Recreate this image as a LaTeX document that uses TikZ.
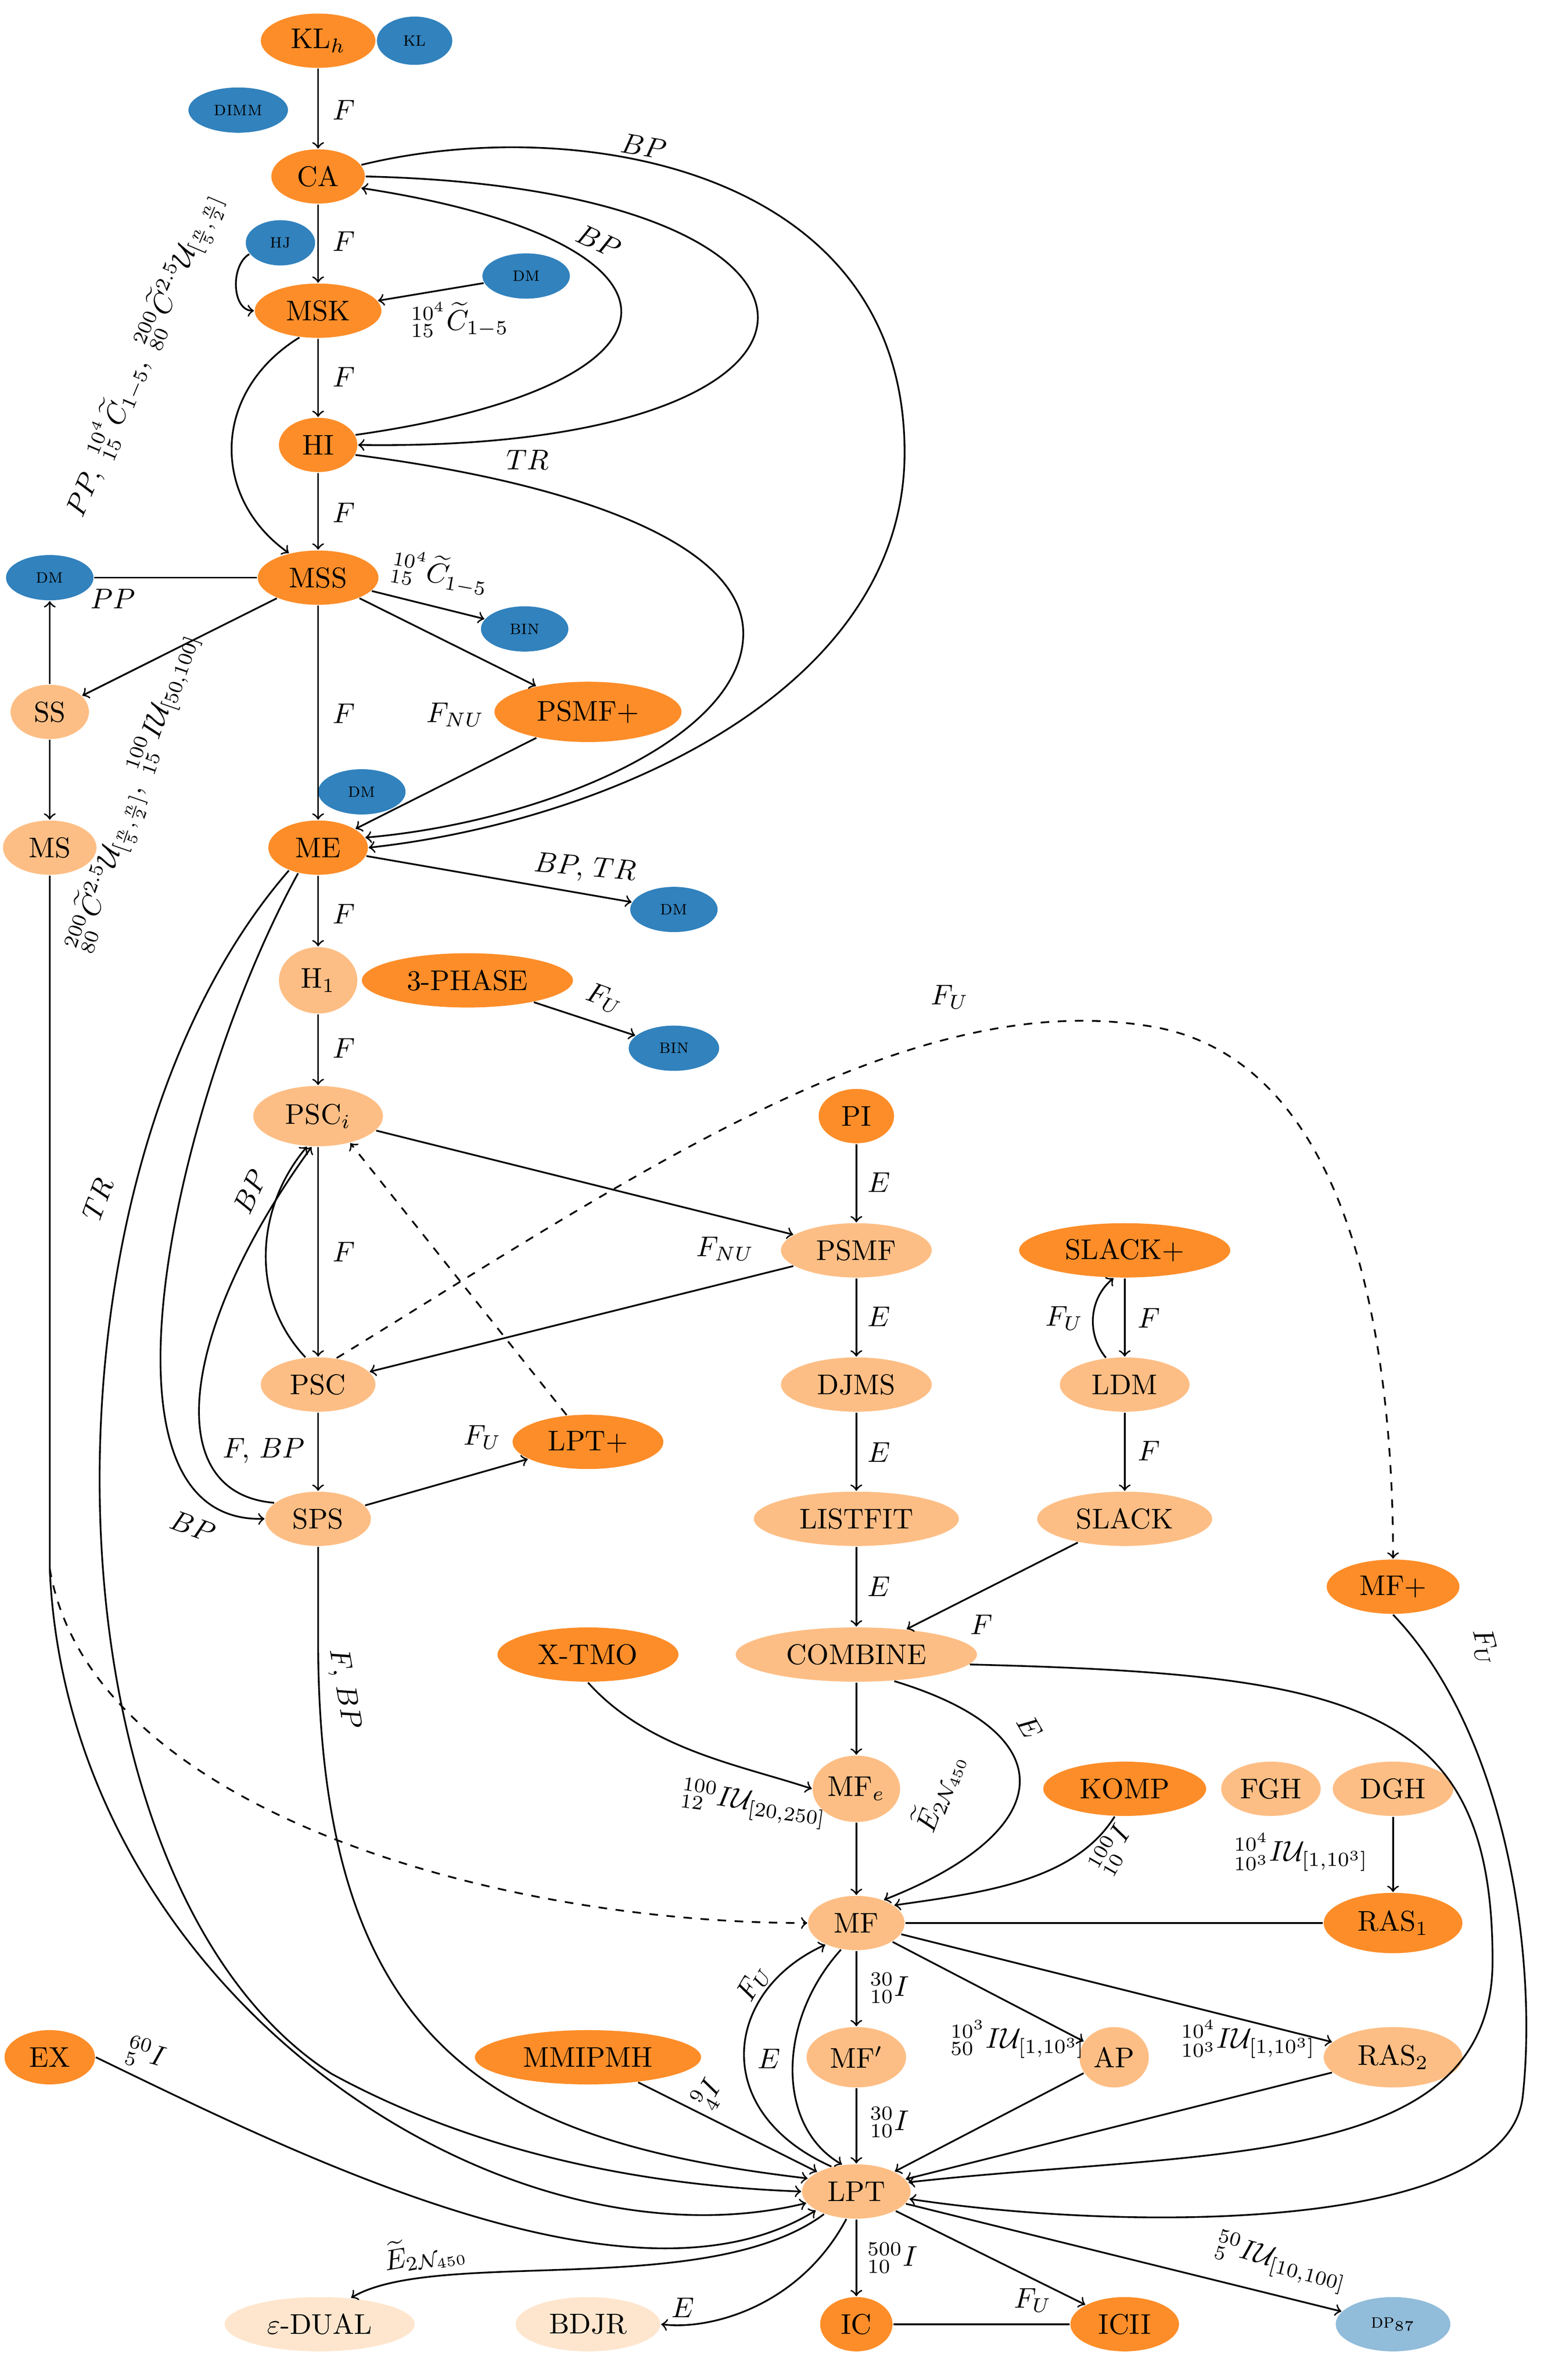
\documentclass[tikz,border=0pt]{standalone}
\usepackage{amsmath,amssymb}
\usetikzlibrary{shapes.geometric}
\begin{document}
\definecolor{dk}{RGB}{253,141,41}
\definecolor{lt}{RGB}{253,190,133}
\definecolor{bl}{RGB}{49,130,189}
\definecolor{lb}{RGB}{145,188,218}
\definecolor{vl}{RGB}{254,230,206}
\begin{tikzpicture}[x=0.0186cm,y=-0.0186cm,semithick,
  nd/.style 2 args={ellipse,inner sep=0pt,minimum width=#1*0.0186cm,minimum height=#2*0.0186cm},
  D/.style={fill=dk},L/.style={fill=lt},B/.style={fill=bl,font=\scriptsize\scshape},
  V/.style={fill=vl},LB/.style={fill=lb,font=\scriptsize\scshape},
  lab/.style={inner sep=1pt}]
\useasboundingbox (0,0) rectangle (1024,1578);
% nodes
\node[nd={76}{36},D] (KLh) at (211,27) {KL$_h$};
\node[nd={50}{32},B] (KL) at (275,27) {kl};
\node[nd={66}{30},B] (DIMM) at (158,73) {dimm};
\node[nd={62}{36},D] (CA) at (211,117) {CA};
\node[nd={46}{30},B] (HJ) at (186,161) {hj};
\node[nd={84}{36},D] (MSK) at (211,206) {MSK};
\node[nd={58}{30},B] (DMa) at (349,183) {dm};
\node[nd={52}{36},D] (HI) at (211,295) {HI};
\node[nd={80}{36},D] (MSS) at (211,383) {MSS};
\node[nd={58}{30},B] (DMb) at (33,383) {dm};
\node[nd={58}{30},B] (BINa) at (348,417) {bin};
\node[nd={52}{36},L] (SS) at (33,472) {SS};
\node[nd={124}{40},D] (PSMFp) at (390,472) {PSMF+};
\node[nd={58}{30},B] (DMc) at (240,525) {dm};
\node[nd={62}{36},L] (MS) at (33,562) {MS};
\node[nd={66}{36},D] (ME) at (211,562) {ME};
\node[nd={58}{30},B] (DMd) at (447,603) {dm};
\node[nd={52}{44},L] (H1) at (211,650) {H$_1$};
\node[nd={140}{36},D] (PH) at (310,650) {3-PHASE};
\node[nd={60}{30},B] (BINb) at (447,695) {bin};
\node[nd={86}{40},L] (PSCi) at (211,740) {PSC$_i$};
\node[nd={50}{36},D] (PI) at (568,740) {PI};
\node[nd={100}{36},L] (PSMF) at (568,829) {PSMF};
\node[nd={140}{36},D] (SLp) at (746,829) {SLACK+};
\node[nd={76}{36},L] (PSC) at (211,918) {PSC};
\node[nd={100}{36},L] (DJMS) at (568,918) {DJMS};
\node[nd={86}{36},L] (LDM) at (746,918) {LDM};
\node[nd={100}{36},D] (LPTp) at (390,956) {LPT+};
\node[nd={70}{36},L] (SPS) at (211,1007) {SPS};
\node[nd={136}{36},L] (LIST) at (568,1007) {LISTFIT};
\node[nd={116}{36},L] (SLACK) at (746,1007) {SLACK};
\node[nd={88}{36},D] (MFp) at (924,1052) {MF+};
\node[nd={120}{36},D] (XT) at (390,1097) {X-TMO};
\node[nd={160}{36},L] (COMB) at (568,1097) {COMBINE};
\node[nd={58}{44},L] (MFe) at (568,1186) {MF$_e$};
\node[nd={108}{36},D] (KOMP) at (746,1186) {KOMP};
\node[nd={66}{36},L] (FGH) at (843,1186) {FGH};
\node[nd={80}{36},L] (DGH) at (924,1186) {DGH};
\node[nd={64}{36},L] (MF) at (568,1275) {MF};
\node[nd={92}{40},D] (RASa) at (924,1275) {RAS$_1$};
\node[nd={60}{36},D] (EX) at (33,1364) {EX};
\node[nd={150}{36},D] (MMI) at (390,1364) {MMIPMH};
\node[nd={66}{40},L] (MFq) at (568,1364) {MF$'$};
\node[nd={46}{40},L] (AP) at (739,1364) {AP};
\node[nd={92}{40},L] (RASb) at (924,1364) {RAS$_2$};
\node[nd={72}{36},L] (LPT) at (568,1453) {LPT};
\node[nd={126}{36},V] (ED) at (212,1541) {$\varepsilon$-DUAL};
\node[nd={96}{36},V] (BDJR) at (390,1541) {BDJR};
\node[nd={48}{36},D] (IC) at (568,1541) {IC};
\node[nd={72}{36},D] (ICII) at (746,1541) {ICII};
\node[nd={76}{36},LB] (DP) at (924,1541) {dp$_{87}$};
\coordinate (msx) at (33,1040);
% edges
\draw[->] (KLh) -- (CA);
\draw[->] (CA) -- (MSK);
\draw[->] (HJ.200) to[out=210,in=180] (MSK.west);
\draw[->] (DMa) -- (MSK);
\draw[->] (MSK) -- (HI);
\draw[->] (HI) -- (MSS);
\draw[->] (MSK.235) .. controls (140,260) and (140,330) .. (MSS.140);
\draw[->] (HI.15) .. controls (470,255) and (470,160) .. (CA.-15);
\draw[->] (CA.east) .. controls (590,125) and (590,300) .. (HI.east);
\draw[->] (CA.15) .. controls (380,75) and (600,110) .. (600,300) .. controls (600,460) and (400,545) .. (ME.east);
\draw[->] (HI.-15) .. controls (380,320) and (493,360) .. (493,420) .. controls (493,490) and (360,545) .. (ME.12);
\draw (DMb) -- (MSS);
\draw[->] (MSS) -- (BINa);
\draw[->] (MSS) -- (SS);
\draw[->] (SS) -- (DMb);
\draw[->] (MSS) -- (PSMFp);
\draw[->] (MSS) -- (ME);
\draw[->] (PSMFp) -- (ME);
\draw[->] (SS) -- (MS);
\draw[->] (ME) -- (DMd);
\draw[->] (ME) -- (H1);
\draw[->] (PH) -- (BINb);
\draw[->] (H1) -- (PSCi);
\draw[->] (PSCi) -- (PSC);
\draw[->] (PSCi) -- (PSMF);
\draw[->] (PSMF) -- (PSC);
\draw[->] (PSC) -- (SPS);
\draw[->] (SPS) -- (LPTp);
\draw[->,dashed] (LPTp) -- (PSCi.-40);
\draw[->] (PSC.115) .. controls (165,860) and (170,800) .. (PSCi.250);
\draw[->] (SPS.160) .. controls (105,990) and (120,880) .. (PSCi.258);
\draw[->] (ME.232) .. controls (120,720) and (50,1010) .. (SPS.west);
\draw[->,dashed] (PSC.55) .. controls (420,780) and (600,655) .. (760,680) .. controls (900,700) and (924,900) .. (MFp.north);
\draw[->] (PI) -- (PSMF);
\draw[->] (PSMF) -- (DJMS);
\draw[->] (DJMS) -- (LIST);
\draw[->] (LIST) -- (COMB);
\draw[->] (SLACK) -- (COMB);
\draw[->] (SLp) -- (LDM);
\draw[->] (LDM.125) to[bend left=45] (SLp.248);
\draw[->] (LDM) -- (SLACK);
\draw[->] (COMB) -- (MFe);
\draw[->] (XT.south) .. controls (430,1160) and (490,1170) .. (MFe.west);
\draw[->] (COMB.-35) .. controls (710,1150) and (700,1215) .. (MF.40);
\draw[->] (MFe) -- (MF);
\draw[->] (KOMP.250) .. controls (712,1248) and (650,1255) .. (MF.25);
\draw[->] (DGH) -- (RASa);
\draw (MF) -- (RASa);
\draw[->] (MF) -- (MFq);
\draw[->] (MF) -- (AP);
\draw[->] (MF) -- (RASb);
\draw[->] (MFq) -- (LPT);
\draw[->] (AP) -- (LPT);
\draw[->] (RASb) -- (LPT);
\draw[->] (MMI) -- (LPT);
\draw[->] (LPT.135) .. controls (470,1400) and (480,1320) .. (MF.215);
\draw[->] (MF.240) .. controls (515,1340) and (515,1410) .. (LPT.118);
\draw[->] (MS.south) -- (msx) .. controls (45,1320) and (330,1510) .. (LPT.193);
\draw[->,dashed] (msx) .. controls (60,1200) and (330,1275) .. (MF.west);
\draw[->] (ME.218) .. controls (15,780) and (25,1250) .. (220,1375) .. controls (330,1435) and (450,1450) .. (LPT.180);
\draw[->] (SPS.south) -- (211,1090) .. controls (212,1360) and (330,1420) .. (LPT.165);
\draw[->] (EX.east) .. controls (200,1430) and (420,1540) .. (LPT.205);
\draw[->] (COMB.-5) .. controls (900,1110) and (990,1130) .. (990,1300) .. controls (990,1440) and (800,1425) .. (LPT.10);
\draw[->] (MFp.south) .. controls (1000,1150) and (1020,1300) .. (1010,1390) .. controls (1000,1480) and (750,1480) .. (LPT.-8);
\draw[->] (LPT.215) .. controls (470,1525) and (290,1490) .. (ED.40);
\draw[->] (LPT.250) .. controls (530,1530) and (470,1545) .. (BDJR.east);
\draw[->] (LPT) -- (IC);
\draw[->] (LPT) -- (ICII);
\draw[->] (LPT) -- (DP);
\draw (IC) -- (ICII);
% labels
\foreach \y in {73,160,250,340,473,606,695,830} \node[lab] at (228,\y) {$F$};
\node[lab] (l1) at (305,212) {${}^{10^4}_{15}\widetilde{C}_{1-5}$};
\node[lab,rotate=-10] (l2) at (292,380) {${}^{10^4}_{15}\widetilde{C}_{1-5}$};
\node[lab] (l3) at (75,397) {$PP$};
\node[lab,rotate=67] (l4) at (95,235) {$PP,\ {}^{10^4}_{15}\widetilde{C}_{1-5},\ {}^{200}_{80}\widetilde{C}^{2.5}\mathcal{U}_{[\frac{n}{5},\frac{n}{2}]}$};
\node[lab,rotate=71] (l5) at (88,525) {${}^{200}_{80}\widetilde{C}^{2.5}\mathcal{U}_{[\frac{n}{5},\frac{n}{2}]},\ {}^{100}_{15}I\mathcal{U}_{[50,100]}$};
\node[lab] (l6) at (302,474) {$F_{NU}$};
\node[lab,rotate=-10] (l7) at (427,97) {$BP$};
\node[lab,rotate=-25] (l8) at (397,160) {$BP$};
\node[lab] (l9) at (350,305) {$TR$};
\node[lab,rotate=-5] (l10) at (388,576) {$BP,\,TR$};
\node[lab,rotate=-20] (l11) at (401,662) {$F_U$};
\node[lab] (l12) at (630,661) {$F_U$};
\node[lab,rotate=70] (l13) at (65,795) {$TR$};
\node[lab,rotate=65] (l14) at (166,790) {$BP$};
\node[lab,rotate=-20] (l15) at (128,1012) {$BP$};
\node[lab] (l16) at (175,962) {$F,\,BP$};
\node[lab] (l17) at (320,953) {$F_U$};
\node[lab] (l18) at (481,828) {$F_{NU}$};
\foreach \y in {784,873,963,1052} \node[lab] at (583,\y) {$E$};
\node[lab] (l19) at (706,874) {$F_U$};
\node[lab] (l20) at (762,874) {$F$};
\node[lab] (l21) at (762,962) {$F$};
\node[lab] (l22) at (651,1077) {$F$};
\node[lab,rotate=-80] (l23) at (228,1120) {$F,\,BP$};
\node[lab,rotate=-75] (l24) at (985,1092) {$F_U$};
\node[lab,rotate=-8] (l25) at (500,1196) {${}^{100}_{12}I\mathcal{U}_{[20,250]}$};
\node[lab,rotate=70] (l26) at (622,1188) {$\widetilde{E}_{2\mathcal{N}_{450}}$};
\node[lab,rotate=-60] (l27) at (683,1145) {$E$};
\node[lab,rotate=60] (l28) at (738,1226) {${}^{100}_{10}I$};
\node[lab] (l29) at (863,1228) {${}^{10^4}_{10^3}I\mathcal{U}_{[1,10^3]}$};
\node[lab] (l30) at (590,1318) {${}^{30}_{10}I$};
\node[lab] (l31) at (675,1352) {${}^{10^3}_{50}I\mathcal{U}_{[1,10^3]}$};
\node[lab] (l32) at (828,1352) {${}^{10^4}_{10^3}I\mathcal{U}_{[1,10^3]}$};
\node[lab,rotate=-15] (l33) at (97,1362) {${}^{60}_{5}I$};
\node[lab,rotate=60] (l34) at (470,1388) {${}^{9}_{4}I$};
\node[lab,rotate=60] (l35) at (500,1315) {$F_U$};
\node[lab] (l36) at (510,1365) {$E$};
\node[lab] (l37) at (590,1407) {${}^{30}_{10}I$};
\node[lab,rotate=10] (l38) at (282,1494) {$\widetilde{E}_{2\mathcal{N}_{450}}$};
\node[lab] (l39) at (453,1530) {$E$};
\node[lab] (l40) at (592,1497) {${}^{500}_{10}I$};
\node[lab] (l41) at (685,1525) {$F_U$};
\node[lab,rotate=-15] (l42) at (850,1500) {${}^{50}_{5}I\mathcal{U}_{[10,100]}$};
\end{tikzpicture}
\end{document}
